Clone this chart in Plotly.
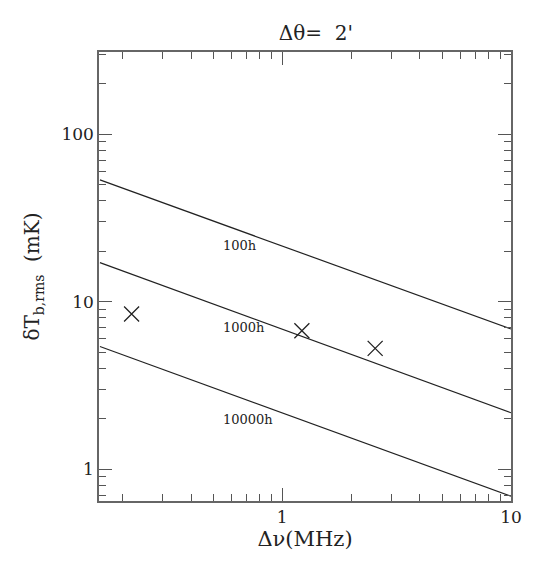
import math
import plotly.graph_objects as go

# Data
freq_ends = [0.16, 10.0]               # MHz, line end points
line_labels = ["100h", "1000h", "10000h"]
line_100h = [53.3, 6.86]               # mK
line_1000h = [17.1, 2.17]
line_10000h = [5.4, 0.69]
label_x = [0.54, 0.54, 0.54]
label_y = [21.5, 6.98, 1.99]
obs_freq = [0.22, 1.22, 2.55]
obs_temp = [8.43, 6.7, 5.26]

major_vals_y = [1, 10, 100]
minor_vals_y = [0.7, 0.8, 0.9, 2, 3, 4, 5, 6, 7, 8, 9, 20, 30, 40, 50, 60, 70, 80, 90, 200, 300]
major_vals_x = [1, 10]
minor_vals_x = [0.2, 0.3, 0.4, 0.5, 0.6, 0.7, 0.8, 0.9, 2, 3, 4, 5, 6, 7, 8, 9]

FONT = "DejaVu Serif"
TC = "#555"
XR = [-0.8, 1.0]
YR = [-0.19, 2.49]

fig = go.Figure()
for ys in (line_100h, line_1000h, line_10000h):
    fig.add_trace(go.Scatter(x=freq_ends, y=ys, mode="lines",
                             line=dict(color="#222", width=1.2), showlegend=False))
fig.add_trace(go.Scatter(x=obs_freq, y=obs_temp, mode="markers",
                         marker=dict(symbol="x-thin", size=15,
                                     line=dict(color="#222", width=1.3)),
                         showlegend=False))
# invisible trace to hold the mirrored tick axes (top / right)
fig.add_trace(go.Scatter(x=freq_ends, y=line_100h, xaxis="x2", yaxis="y2",
                         mode="lines", line=dict(width=0), opacity=0,
                         hoverinfo="skip", showlegend=False))
for t, lx, ly in zip(line_labels, label_x, label_y):
    fig.add_annotation(x=math.log10(lx), y=math.log10(ly), xref="x", yref="y",
                       text=t, showarrow=False, xanchor="left", yanchor="middle",
                       font=dict(family=FONT, size=13, color="#222"))

tick_common = dict(type="log", showgrid=False, zeroline=False,
                   ticks="inside", ticklen=13, tickcolor=TC, tickwidth=1.3)
xminor = dict(ticks="inside", ticklen=7, tickvals=minor_vals_x,
              tickcolor=TC, tickwidth=1.3, showgrid=False)
yminor = dict(ticks="inside", ticklen=7, tickvals=minor_vals_y,
              tickcolor=TC, tickwidth=1.3, showgrid=False)

fig.update_layout(
    xaxis=dict(**tick_common, range=XR, tickvals=major_vals_x, ticktext=["1", "10"],
               showline=True, linecolor="#666", linewidth=1.5, mirror=True,
               minor=xminor, tickfont=dict(family=FONT, size=17, color="#222"),
               title=dict(text="Δν(MHz)", font=dict(family=FONT, size=21, color="#222"),
                          standoff=4)),
    yaxis=dict(**tick_common, range=YR, tickvals=major_vals_y,
               ticktext=["1", "10", "100"],
               showline=True, linecolor="#666", linewidth=1.5, mirror=True,
               minor=yminor, tickfont=dict(family=FONT, size=17, color="#222"),
               title=dict(text="δT<sub>b,rms</sub>  (mK)",
                          font=dict(family=FONT, size=20, color="#222"), standoff=16)),
    xaxis2=dict(**tick_common, range=XR, tickvals=major_vals_x, showticklabels=False,
                overlaying="x", side="top", anchor="y", minor=xminor),
    yaxis2=dict(**tick_common, range=YR, tickvals=major_vals_y, showticklabels=False,
                overlaying="y", side="right", anchor="x", minor=yminor),
    width=559, height=561, margin=dict(l=99, r=48, t=52, b=60),
    plot_bgcolor="white", paper_bgcolor="white",
    title=dict(text="Δθ=  2'", x=0.565, xanchor="center", y=0.942,
               yanchor="middle", font=dict(family=FONT, size=20, color="#222")),
)
fig.write_html("out.html")
